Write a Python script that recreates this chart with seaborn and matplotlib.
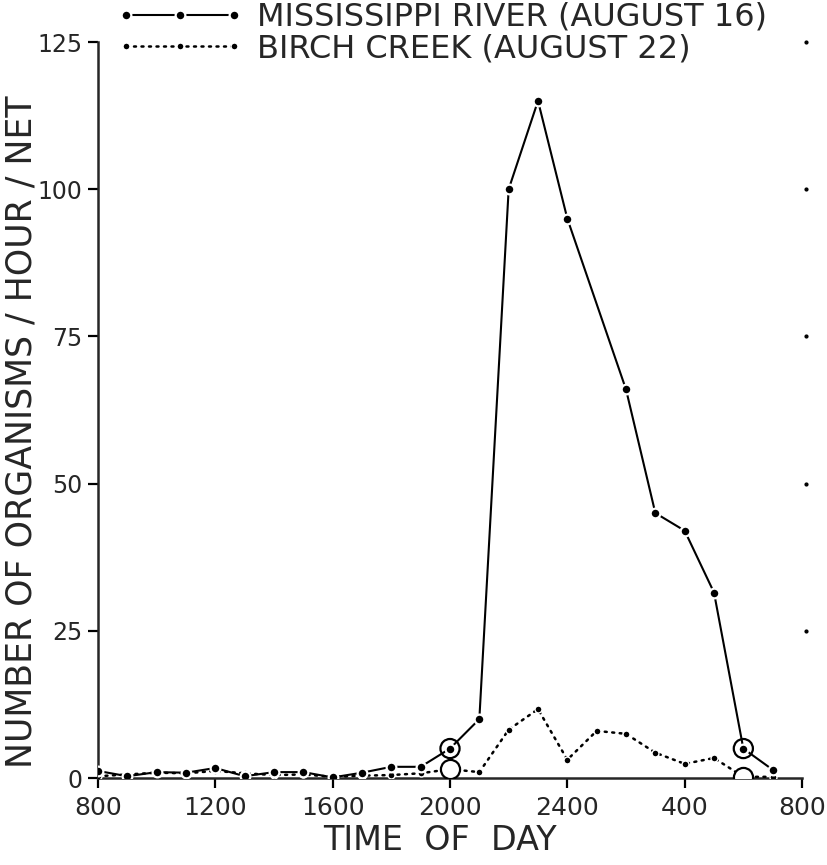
import matplotlib
matplotlib.use("Agg")
import matplotlib.pyplot as plt
import seaborn as sns
import pandas as pd
import numpy as np

# ---- data (hours after 0800) ----
miss_hours = [0, 1, 2, 3, 4, 5, 6, 7, 8, 9, 10, 11, 12, 13, 14, 15, 16, 18, 19, 20, 21, 22, 23]
miss_values = [1.2, 0.3, 1.0, 0.9, 1.7, 0.3, 1.0, 1.0, 0.1, 0.9, 1.9, 1.9, 5.0, 10.0, 100.0,
               115.0, 95.0, 66.0, 45.0, 42.0, 31.5, 5.0, 1.4]
birch_hours = [0, 1, 2, 3, 4, 5, 6, 7, 8, 9, 10, 11, 12, 13, 14, 15, 16, 17, 18, 19, 20, 21, 22, 23]
birch_values = [0.3, 0.6, 0.9, 0.8, 1.2, 0.8, 0.5, 0.6, 0.2, 0.4, 0.5, 0.8, 1.5, 1.0, 8.2,
                11.7, 3.1, 8.0, 7.5, 4.3, 2.4, 3.4, 0.2, 0.2]
circled_hours = [12, 22]          # 2000 and 0600 (circled samples)
tick_hours = [0, 4, 8, 12, 16, 20, 24]
tick_labels = ["800", "1200", "1600", "2000", "2400", "400", "800"]
y_ticks = [0, 25, 50, 75, 100, 125]
mark_values = [25, 50, 75, 100, 125]   # small registration dots on the right edge

miss = pd.DataFrame({"hour": miss_hours, "value": miss_values})
birch = pd.DataFrame({"hour": birch_hours, "value": birch_values})
miss_c = miss[miss["hour"].isin(circled_hours)]
birch_c = birch[birch["hour"].isin(circled_hours)]

sns.set_style("ticks")
plt.rcParams["font.family"] = ["DejaVu Sans"]

fig = plt.figure(figsize=(8.28, 8.65), dpi=100)
ax = fig.add_axes([98 / 828, 1 - 778 / 865, 704 / 828, 736 / 865])

sns.lineplot(data=miss, x="hour", y="value", ax=ax, color="black", lw=1.5,
             marker="o", markersize=7, markerfacecolor="black",
             markeredgecolor="white", markeredgewidth=1.6,
             label="MISSISSIPPI RIVER (AUGUST 16)", zorder=4)
sns.lineplot(data=birch, x="hour", y="value", ax=ax, color="black", lw=1.8,
             linestyle=(0, (0.8, 2.2)), dash_capstyle="round",
             marker="o", markersize=5, markerfacecolor="black",
             markeredgecolor="white", markeredgewidth=1.0,
             label="BIRCH CREEK (AUGUST 22)", zorder=3)

# circled samples
sns.scatterplot(data=miss_c, x="hour", y="value", ax=ax, s=190, facecolor="none",
                edgecolor="black", linewidth=1.6, zorder=5, legend=False)
sns.scatterplot(data=birch_c, x="hour", y="value", ax=ax, s=190, facecolor="white",
                edgecolor="black", linewidth=1.6, zorder=5, legend=False)

# registration dots at right edge
ax.scatter([24.15] * len(mark_values), mark_values, s=4, color="black",
           clip_on=False, zorder=6)

ax.set_xlim(0, 24)
ax.set_ylim(0, 125)
ax.set_xticks(tick_hours)
ax.set_xticklabels(tick_labels)
ax.set_yticks(y_ticks)
ax.set_yticklabels([str(v) for v in y_ticks])
sns.despine(ax=ax)
for s in ["left", "bottom"]:
    ax.spines[s].set_linewidth(1.8)
ax.tick_params(axis="both", direction="out", length=7, width=1.6, color="black")
ax.tick_params(axis="x", labelsize=18, pad=6)
ax.tick_params(axis="y", labelsize=17, pad=4)

ax.set_xlabel("TIME  OF  DAY", fontsize=24)
ax.set_ylabel("NUMBER OF ORGANISMS / HOUR / NET", fontsize=25)
ax.xaxis.set_label_coords(0.486, -0.062)
ax.yaxis.set_label_coords(-0.085, 0.47)

leg = ax.legend(loc="upper left", bbox_to_anchor=(116 / 828, 1 - 2 / 865),
                bbox_transform=fig.transFigure, frameon=False, fontsize=23,
                numpoints=3, handlelength=4.0, handletextpad=0.4,
                labelspacing=0.0, borderpad=0, borderaxespad=0)

fig.savefig("out.png", dpi=100)
